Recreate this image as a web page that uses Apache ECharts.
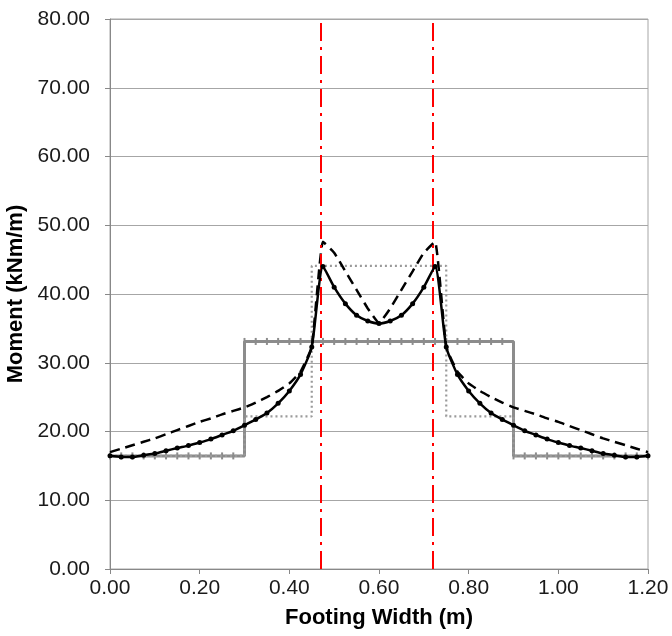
<!DOCTYPE html>
<html>
<head>
<meta charset="utf-8">
<script src="https://cdn.jsdelivr.net/npm/echarts@6/dist/echarts.min.js"></script>
<style>html,body{margin:0;padding:0;background:#fff}#c{width:672px;height:636px}</style>
</head>
<body>
<div id="c"></div>
<script>
// Positions across the footing (m)
const xs = [0, 0.025, 0.05, 0.075, 0.1, 0.125, 0.15, 0.175, 0.2, 0.225, 0.25, 0.275,
  0.3, 0.325, 0.35, 0.375, 0.4, 0.425, 0.45, 0.475, 0.5, 0.525, 0.55, 0.575, 0.6,
  0.625, 0.65, 0.675, 0.7, 0.725, 0.75, 0.775, 0.8, 0.825, 0.85, 0.875, 0.9, 0.925,
  0.95, 0.975, 1.0, 1.025, 1.05, 1.075, 1.1, 1.125, 1.15, 1.175, 1.2];
// Solid black curve with markers
const solidY = [16.46, 16.3, 16.3, 16.55, 16.8, 17.2, 17.6, 17.95, 18.4, 18.9, 19.5, 20.1,
  20.9, 21.75, 22.7, 24.1, 25.9, 28.3, 32.3, 44.0, 41.0, 38.6, 36.9, 36.07, 35.7,
  36.07, 36.9, 38.6, 41.0, 44.0, 32.3, 28.3, 25.9, 24.1, 22.7, 21.75, 20.9, 20.1,
  19.5, 18.9, 18.4, 17.95, 17.6, 17.2, 16.8, 16.55, 16.3, 16.3, 16.46];
// Dashed black curve
const dashedY = [17.0, 17.5, 18.0, 18.5, 19.0, 19.6, 20.2, 20.8, 21.4, 21.9, 22.5, 23.0,
  23.5, 24.2, 25.0, 25.9, 27.0, 28.7, 32.3, 47.6, 46.0, 43.3, 40.6, 37.9, 35.8,
  37.9, 40.6, 43.3, 46.0, 47.6, 32.3, 28.7, 27.0, 25.9, 25.0, 24.2, 23.5, 23.0,
  22.5, 21.9, 21.4, 20.8, 20.2, 19.6, 19.0, 18.5, 18.0, 17.5, 17.0];
// Solid grey step line (value held to the right of each point)
const greyY = [16.45, 16.45, 16.45, 16.45, 16.45, 16.45, 16.45, 16.45, 16.45, 16.45, 16.45, 16.45,
  33.1, 33.1, 33.1, 33.1, 33.1, 33.1, 33.1, 33.1, 33.1, 33.1, 33.1, 33.1, 33.1,
  33.1, 33.1, 33.1, 33.1, 33.1, 33.1, 33.1, 33.1, 33.1, 33.1, 33.1, 16.45, 16.45,
  16.45, 16.45, 16.45, 16.45, 16.45, 16.45, 16.45, 16.45, 16.45, 16.45, 16.45];
// Dotted grey step line
const dotX = [0, 0.3, 0.45, 0.75, 0.9, 1.2];
const dotY = [16.45, 22.2, 44.1, 22.2, 16.45, 16.45];
// Column faces (red dash-dot lines)
const columnEdges = [0.475, 0.725];

const font = "'Liberation Sans', Arial, sans-serif";
const pair = (xa, ya) => xa.map((x, i) => [x, ya[i]]);

const chart = echarts.init(document.getElementById('c'), null, {renderer: 'canvas'});
chart.setOption({
  animation: false,
  backgroundColor: '#fff',
  grid: {left: 110, right: 24, top: 19, bottom: 67, outerBoundsMode: 'none', containLabel: false,
    show: true, borderColor: '#A6A6A6', borderWidth: 1},
  xAxis: {
    type: 'value', min: 0, max: 1.2, interval: 0.2,
    name: 'Footing Width (m)', nameLocation: 'middle', nameGap: 38,
    nameTextStyle: {fontFamily: font, fontSize: 22, fontWeight: 'bold', color: '#000'},
    axisLine: {show: true, onZero: false, lineStyle: {color: '#888', width: 1}},
    axisTick: {show: true, length: 5, lineStyle: {color: '#888'}},
    axisLabel: {fontFamily: font, fontSize: 21, color: '#1a1a1a', margin: 9, formatter: v => v.toFixed(2)},
    splitLine: {show: false}
  },
  yAxis: {
    type: 'value', min: 0, max: 80, interval: 10,
    name: 'Moment (kNm/m)', nameLocation: 'middle', nameGap: 69,
    nameTextStyle: {fontFamily: font, fontSize: 22, fontWeight: 'bold', color: '#000'},
    axisLine: {show: true, lineStyle: {color: '#888', width: 1}},
    axisTick: {show: true, length: 5, lineStyle: {color: '#888'}},
    axisLabel: {fontFamily: font, fontSize: 21, color: '#1a1a1a', margin: 20, formatter: v => v.toFixed(2)},
    splitLine: {show: true, lineStyle: {color: '#A6A6A6', width: 1}}
  },
  series: [
    {
      type: 'line', data: pair(xs, greyY), step: 'end',
      lineStyle: {color: '#8C8C8C', width: 3},
      symbol: 'rect', symbolSize: [2, 7], itemStyle: {color: '#8C8C8C'}, z: 2
    },
    {
      type: 'line', data: pair(dotX, dotY), step: 'end', symbol: 'none',
      lineStyle: {color: '#9A9A9A', width: 2.2, type: [2, 3]}, z: 3
    },
    {
      type: 'line', data: pair(xs, dashedY), symbol: 'none', smooth: 0.12,
      lineStyle: {color: '#000', width: 2.5, type: [10, 6]}, z: 4
    },
    {
      type: 'line', data: pair(xs, solidY), symbol: 'circle', symbolSize: 5, smooth: 0.2,
      lineStyle: {color: '#000', width: 2.5}, itemStyle: {color: '#000'}, z: 5
    },
    {
      type: 'line', data: [], z: 6,
      markLine: {
        silent: true, symbol: 'none', label: {show: false},
        lineStyle: {color: '#FF0000', width: 2, type: [18, 6, 3, 6]},
        data: columnEdges.map(v => ({xAxis: v}))
      }
    }
  ]
});
</script>
</body>
</html>
